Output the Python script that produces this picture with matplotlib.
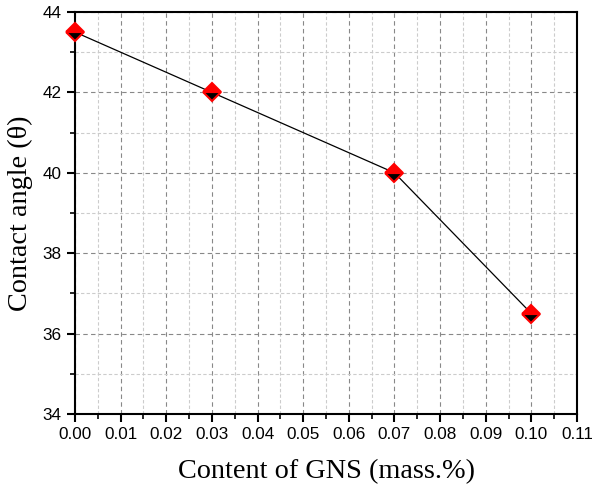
import matplotlib
matplotlib.use("Agg")
import matplotlib.pyplot as plt
from matplotlib.ticker import MultipleLocator

x_vals = [0.00, 0.03, 0.07, 0.10]
y_vals = [43.5, 42.0, 40.0, 36.5]
x_ticks = [0.00, 0.01, 0.02, 0.03, 0.04, 0.05, 0.06, 0.07, 0.08, 0.09, 0.10, 0.11]
y_ticks = [34, 36, 38, 40, 42, 44]

fig = plt.figure(figsize=(5.92, 4.88), dpi=100)
ax = fig.add_axes([75/592, 1-414/488, (577-75)/592, (414-12)/488])

ax.plot(x_vals, y_vals, color='black', lw=0.9, zorder=3)
ax.plot(x_vals, y_vals, ls='none', marker='D', markersize=9, fillstyle='bottom',
        markerfacecolor='black', markerfacecoloralt='red', markeredgecolor='red',
        markeredgewidth=1.5, zorder=4, clip_on=False)

ax.set_xlim(0, 0.11)
ax.set_ylim(34, 44)
ax.set_xticks(x_ticks)
ax.set_xticklabels([f"{t:.2f}" for t in x_ticks])
ax.set_yticks(y_ticks)
ax.xaxis.set_minor_locator(MultipleLocator(0.005))
ax.yaxis.set_minor_locator(MultipleLocator(1))

ax.grid(which='major', ls='--', color='#888888', lw=0.8, dashes=(4, 3))
ax.grid(which='minor', ls='--', color='#cccccc', lw=0.8, dashes=(3, 2))
ax.set_axisbelow(True)

for s in ax.spines.values():
    s.set_linewidth(1.5)
ax.tick_params(which='major', direction='out', length=6, width=1.5, labelsize=12.3,
               pad=3.5)
ax.tick_params(which='minor', direction='out', length=3.5, width=1.2)
for lbl in ax.get_xticklabels() + ax.get_yticklabels():
    lbl.set_fontfamily('Liberation Sans')

ax.set_xlabel('Content of GNS (mass.%)', fontfamily='Liberation Serif', fontsize=20.3, labelpad=12)
ax.set_ylabel('Contact angle (θ)', fontfamily='Liberation Serif', fontsize=20.3, labelpad=7)

fig.savefig('out.png', dpi=100)
